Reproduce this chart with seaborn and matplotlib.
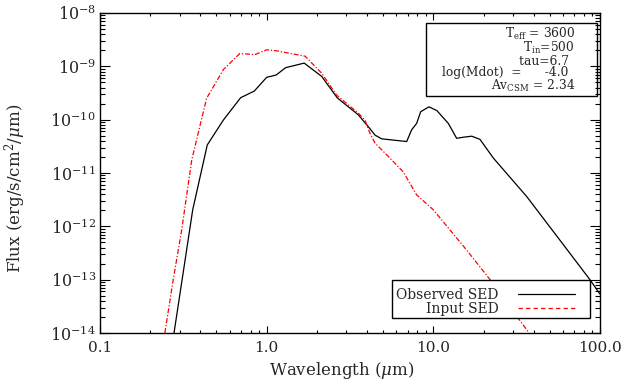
import numpy as np
import pandas as pd
import matplotlib
matplotlib.use("Agg")
import matplotlib.pyplot as plt
import seaborn as sns
from matplotlib.lines import Line2D
from matplotlib.patches import Rectangle
from matplotlib.ticker import LogLocator, FixedLocator, FixedFormatter, LogFormatterMathtext, NullFormatter

# ---- data ----
obs_wave = [0.278, 0.36, 0.44, 0.55, 0.698, 0.843, 1.0, 1.14, 1.30, 1.68, 2.14, 2.65,
            3.55, 3.89, 4.07, 4.47, 4.9, 6.92, 7.41, 7.94, 8.4, 9.41, 10.5, 12.3,
            13.8, 15.1, 17.0, 19.05, 22.9, 36.3, 57.5, 87.0, 100.0]
obs_flux = [1.0e-14, 2.04e-12, 3.35e-11, 9.86e-11, 2.58e-10, 3.44e-10, 6.22e-10, 6.87e-10,
            9.44e-10, 1.15e-9, 6.46e-10, 2.57e-10, 1.23e-10, 8.71e-11, 7.41e-11, 5.13e-11,
            4.37e-11, 3.89e-11, 6.46e-11, 8.51e-11, 1.41e-10, 1.74e-10, 1.48e-10, 8.51e-11,
            4.47e-11, 4.68e-11, 4.90e-11, 4.27e-11, 1.91e-11, 3.63e-12, 5.50e-13, 1.0e-13, 5.37e-14]

inp_wave = [0.245, 0.275, 0.309, 0.355, 0.436, 0.55, 0.69, 0.85, 1.0, 1.15, 1.7, 2.14,
            2.63, 3.55, 3.89, 4.17, 4.47, 5.37, 6.6, 7.94, 10.0, 15.8, 21.9, 37.1]
inp_flux = [1.0e-14, 1.0e-13, 8.51e-13, 1.74e-11, 2.51e-10, 8.71e-10, 1.74e-9, 1.66e-9,
            2.04e-9, 1.95e-9, 1.55e-9, 7.41e-10, 2.88e-10, 1.32e-10, 9.77e-11, 5.50e-11,
            3.63e-11, 2.04e-11, 1.05e-11, 3.89e-12, 2.04e-12, 3.63e-13, 1.0e-13, 1.05e-14]

xtick_vals = [0.1, 1.0, 10.0, 100.0]
xtick_labels = ["0.1", "1.0", "10.0", "100.0"]
ytick_vals = [1e-14, 1e-13, 1e-12, 1e-11, 1e-10, 1e-9, 1e-8]
legend_labels = ["Observed SED", "Input SED"]
info_lines = [r"T$_{\rm eff}$ = 3600", r"T$_{\rm in}$=500$\,\,$", "tau=6.7\u2002",
              "log(Mdot)  =      -4.0\u2002", r"Av$_{\rm CSM}$ = 2.34"]

obs_df = pd.DataFrame({"wave": obs_wave, "flux": obs_flux})
inp_df = pd.DataFrame({"wave": inp_wave, "flux": inp_flux})

sns.set_theme(style="ticks")
plt.rcParams["font.family"] = ["DejaVu Serif"]
plt.rcParams["mathtext.fontset"] = "dejavuserif"
plt.rcParams["axes.linewidth"] = 1.0

fig = plt.figure(figsize=(6.39, 3.87), dpi=100)
ax = fig.add_axes([100/639, 54/387, 500/639, 320/387])

sns.lineplot(data=obs_df, x="wave", y="flux", ax=ax, color="black", lw=0.9,
             sort=False, estimator=None)
sns.lineplot(data=inp_df, x="wave", y="flux", ax=ax, color="red", lw=0.9,
             sort=False, estimator=None, linestyle=(0, (4, 1.5, 1, 1.5)))

ax.set_xscale("log")
ax.set_yscale("log")
ax.set_xlim(0.1, 100)
ax.set_ylim(1e-14, 1e-8)

ax.xaxis.set_major_locator(FixedLocator(xtick_vals))
ax.xaxis.set_major_formatter(FixedFormatter(xtick_labels))
ax.xaxis.set_minor_locator(LogLocator(base=10, subs=np.arange(2, 10), numticks=20))
ax.xaxis.set_minor_formatter(NullFormatter())
ax.yaxis.set_major_locator(FixedLocator(ytick_vals))
ax.yaxis.set_major_formatter(LogFormatterMathtext())
ax.yaxis.set_minor_locator(LogLocator(base=10, subs=np.arange(2, 10), numticks=20))
ax.yaxis.set_minor_formatter(NullFormatter())

ax.tick_params(which="both", direction="in", top=True, right=True, color="black", width=0.8)
ax.tick_params(axis="x", which="major", length=5, pad=6, labelsize=11)
ax.tick_params(axis="x", which="minor", length=2.5)
ax.tick_params(axis="y", which="major", length=7, pad=3, labelsize=11.5)
ax.tick_params(axis="y", which="minor", length=3.5)
for s in ax.spines.values():
    s.set_color("black")
    s.set_visible(True)

ax.set_xlabel(r"Wavelength ($\mu$m)", fontsize=12)
ax.set_ylabel(r"Flux (erg/s/cm$^2$/$\mu$m)", fontsize=12)
ax.xaxis.set_label_coords(0.483, -0.084)
ax.yaxis.set_label_coords(-0.143, 0.453)

# info box
ax.add_patch(Rectangle((0.652, 0.741), 0.341, 0.227, transform=ax.transAxes,
                       fill=False, edgecolor="black", lw=1.0, zorder=5))
ax.text(0.95, 0.96, "\n".join(info_lines), transform=ax.transAxes, ha="right", va="top",
        multialignment="right", fontsize=8.8, linespacing=0.85)

# legend: frame drawn separately
ax.add_patch(Rectangle((0.583, 0.046), 0.396, 0.12, transform=ax.transAxes,
                       fill=True, facecolor="white", edgecolor="black", lw=1.0, zorder=4))
handles = [Line2D([], [], color="black", lw=0.9),
           Line2D([], [], color="red", lw=0.9, linestyle=(0, (3.5, 2.5)))]
leg = ax.legend(handles, legend_labels, loc="lower right", bbox_to_anchor=(0.95, 0.052),
                borderaxespad=0, markerfirst=False, frameon=False,
                fontsize=10, handlelength=4.1, handletextpad=1.4, labelspacing=0.05,
                borderpad=0)
leg.set_zorder(6)

fig.savefig("out.png", dpi=100)
